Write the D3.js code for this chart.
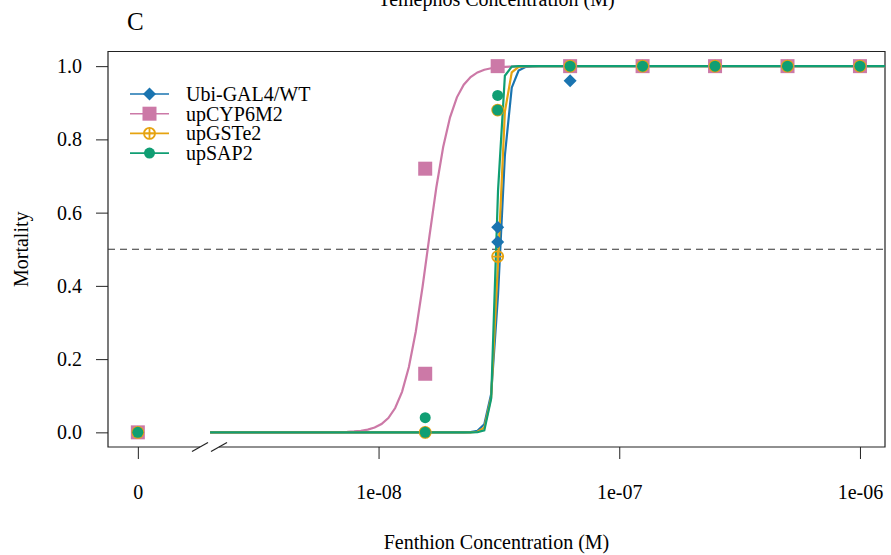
<!DOCTYPE html>
<html>
<head>
<meta charset="utf-8">
<script src="https://cdn.jsdelivr.net/npm/d3@7"></script>
<style>
  body { margin: 0; background: #fff; }
  text { font-family: "Liberation Serif", "Times New Roman", serif; fill: #000; }
</style>
</head>
<body>
<div id="chart"></div>
<script>
// dose-response plot, fenthion, panel C

var svgWidth = 891;
var svgHeight = 555;

// series names and colours
var strains = ["Ubi-GAL4/WT", "upCYP6M2", "upGSTe2", "upSAP2"];
var colors = ["#1a74b0", "#cc79a7", "#e6a310", "#109e73"];

// observed mortality (dose in M, zero dose drawn left of the break)
var wtDose = [0, 1.5625e-8, 3.125e-8, 3.125e-8, 6.25e-8, 1.25e-7, 2.5e-7, 5e-7, 1e-6];
var wtMort = [0, 0, 0.56, 0.52, 0.96, 1, 1, 1, 1];
var cypDose = [0, 1.5625e-8, 1.5625e-8, 3.125e-8, 6.25e-8, 1.25e-7, 2.5e-7, 5e-7, 1e-6];
var cypMort = [0, 0.72, 0.16, 1, 1, 1, 1, 1, 1];
var gstDose = [0, 1.5625e-8, 3.125e-8, 3.125e-8, 6.25e-8, 1.25e-7, 2.5e-7, 5e-7, 1e-6];
var gstMort = [0, 0, 0.88, 0.48, 1, 1, 1, 1, 1];
var sapDose = [0, 1.5625e-8, 1.5625e-8, 3.125e-8, 3.125e-8, 6.25e-8, 1.25e-7, 2.5e-7, 5e-7, 1e-6];
var sapMort = [0, 0.04, 0, 0.92, 0.88, 1, 1, 1, 1, 1];

// fitted log-logistic curves: ED50 and slope
var ed50 = [3.2e-8, 1.6e-8, 3.15e-8, 3.09e-8];
var slope = [25, 8.5, 32, 45];

var xTicks = [1e-9, 1e-8, 1e-7, 1e-6];
var xTickLabels = ["0", "1e-08", "1e-07", "1e-06"];
var yTicks = [0, 0.2, 0.4, 0.6, 0.8, 1.0];

(function() {
  var doses = [wtDose, cypDose, gstDose, sapDose];
  var morts = [wtMort, cypMort, gstMort, sapMort];

  var mLeft = 108, mRight = 885, mTop = 51.5, mBottom = 447;

  var svg = d3.select("#chart").append("svg")
    .attr("width", svgWidth)
    .attr("height", svgHeight);

  var x = d3.scaleLog()
    .domain([Math.pow(10, -9.124), Math.pow(10, -5.896)])
    .range([mLeft, mRight]);

  var y = d3.scaleLinear()
    .domain([-0.04, 1.04])
    .range([mBottom, mTop]);

  // zero dose sits at 1e-9
  var xPos = function(d) { return x(d === 0 ? 1e-9 : d); };

  // axes
  var bottomAxis = d3.axisBottom(x)
    .tickValues(xTicks)
    .tickFormat(function(d, i) { return xTickLabels[i]; })
    .tickSize(12)
    .tickPadding(26);

  var xg = svg.append("g")
    .attr("transform", `translate(0, ${mBottom})`)
    .call(bottomAxis);
  xg.select(".domain").remove();
  xg.selectAll("text").style("font-size", "20px").style("font-family", "Liberation Serif");
  xg.selectAll("line").attr("stroke", "#222");

  var leftAxis = d3.axisLeft(y)
    .tickValues(yTicks)
    .tickFormat(d3.format(".1f"))
    .tickSize(12)
    .tickPadding(14);

  var yg = svg.append("g")
    .attr("transform", `translate(${mLeft}, 0)`)
    .call(leftAxis);
  yg.select(".domain").remove();
  yg.selectAll("text").style("font-size", "20px").style("font-family", "Liberation Serif");
  yg.selectAll("line").attr("stroke", "#222");

  // box with broken bottom line
  var brk1 = 200, brk2 = 219;
  svg.append("path")
    .attr("d", `M${brk1},${mBottom}H${mLeft}V${mTop}H${mRight}V${mBottom}H${brk2}`)
    .attr("fill", "none")
    .attr("stroke", "#222")
    .attr("stroke-width", 1.2);

  [brk1, brk2].forEach(function(bx) {
    svg.append("line")
      .attr("x1", bx - 8).attr("y1", mBottom + 4.5)
      .attr("x2", bx + 8).attr("y2", mBottom - 4.5)
      .attr("stroke", "#222")
      .attr("stroke-width", 1.2);
  });

  // 50% mortality line
  svg.append("line")
    .attr("x1", mLeft).attr("x2", mRight)
    .attr("y1", y(0.5)).attr("y2", y(0.5))
    .attr("stroke", "#333")
    .attr("stroke-width", 1.2)
    .attr("stroke-dasharray", "7,5");

  svg.append("clipPath").attr("id", "plotclip")
    .append("rect")
    .attr("x", mLeft).attr("y", mTop)
    .attr("width", mRight - mLeft).attr("height", mBottom - mTop);

  // fitted curves, 100 points evenly spaced on log scale like drc
  var curveGrid = d3.range(100).map(function(i) {
    return Math.pow(10, -8.7 + i * (2.82 / 99));
  });

  var line = d3.line()
    .x(function(d) { return x(d[0]); })
    .y(function(d) { return y(d[1]); });

  strains.forEach(function(s, k) {
    var pts = curveGrid.map(function(c) {
      return [c, 1 / (1 + Math.exp(-slope[k] * (Math.log(c) - Math.log(ed50[k]))))];
    });
    svg.append("path")
      .datum(pts)
      .attr("clip-path", "url(#plotclip)")
      .attr("d", line)
      .attr("fill", "none")
      .attr("stroke", colors[k])
      .attr("stroke-width", 2.2);
  });

  // point symbols
  function drawSymbol(g, k, cx, cy) {
    if (k === 0) {
      g.append("path")
        .attr("d", `M${cx},${cy - 6.5}L${cx + 6.5},${cy}L${cx},${cy + 6.5}L${cx - 6.5},${cy}Z`)
        .attr("fill", colors[0]);
    } else if (k === 1) {
      g.append("rect")
        .attr("x", cx - 7).attr("y", cy - 7)
        .attr("width", 14).attr("height", 14)
        .attr("fill", colors[1]);
    } else if (k === 2) {
      g.append("circle")
        .attr("cx", cx).attr("cy", cy).attr("r", 5.5)
        .attr("fill", "none").attr("stroke", colors[2]).attr("stroke-width", 1.8);
      g.append("path")
        .attr("d", `M${cx - 5.5},${cy}H${cx + 5.5}M${cx},${cy - 5.5}V${cy + 5.5}`)
        .attr("stroke", colors[2]).attr("stroke-width", 1.8);
    } else {
      g.append("circle")
        .attr("cx", cx).attr("cy", cy).attr("r", 5.5)
        .attr("fill", colors[3]);
    }
  }

  var pointsGroup = svg.append("g");
  strains.forEach(function(s, k) {
    doses[k].forEach(function(d, i) {
      drawSymbol(pointsGroup, k, xPos(d), y(morts[k][i]));
    });
  });

  // legend
  var legend = svg.append("g");
  strains.forEach(function(s, k) {
    var ly = 94 + k * 19.7;
    legend.append("line")
      .attr("x1", 130).attr("x2", 169)
      .attr("y1", ly).attr("y2", ly)
      .attr("stroke", colors[k])
      .attr("stroke-width", 1.6);
    drawSymbol(legend, k, 149.5, ly);
    legend.append("text")
      .attr("x", 186).attr("y", ly + 7)
      .style("font-size", "20px")
      .text(s);
  });

  // titles and labels
  svg.append("text")
    .attr("x", 127).attr("y", 30)
    .style("font-size", "25px")
    .text("C");

  svg.append("text")
    .attr("x", (mLeft + mRight) / 2).attr("y", 6)
    .attr("text-anchor", "middle")
    .style("font-size", "20px")
    .text("Temephos Concentration (M)");

  svg.append("text")
    .attr("x", (mLeft + mRight) / 2).attr("y", 549)
    .attr("text-anchor", "middle")
    .style("font-size", "20px")
    .text("Fenthion Concentration (M)");

  svg.append("text")
    .attr("transform", `translate(28, ${y(0.5)}) rotate(-90)`)
    .attr("text-anchor", "middle")
    .style("font-size", "20px")
    .text("Mortality");
})();
</script>
</body>
</html>
